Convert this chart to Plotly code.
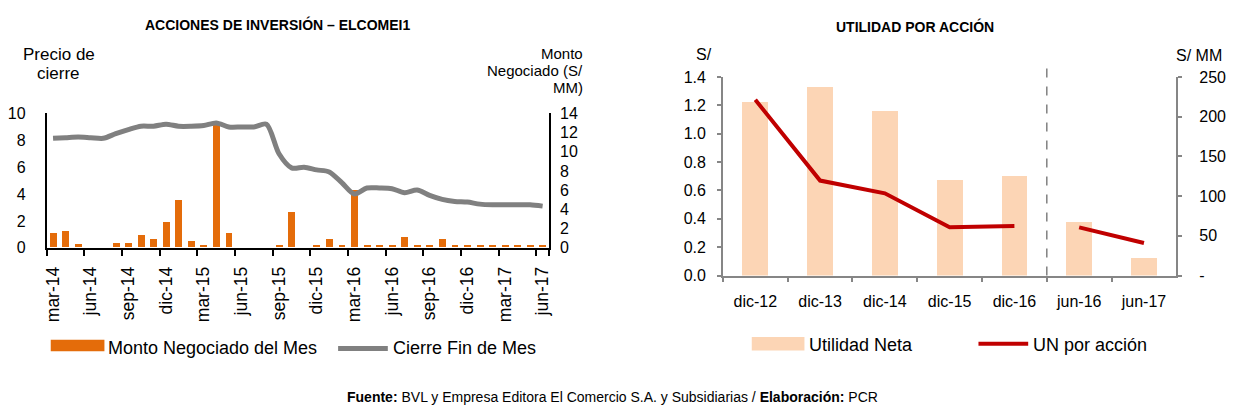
import plotly.graph_objects as go

W, H = 1241, 415

# Monthly trading data, ELCOMEI1 (mar-14 .. jun-17)
meses = [
    "mar-14", "abr-14", "may-14", "jun-14", "jul-14", "ago-14", "sep-14", "oct-14",
    "nov-14", "dic-14", "ene-15", "feb-15", "mar-15", "abr-15", "may-15", "jun-15",
    "jul-15", "ago-15", "sep-15", "oct-15", "nov-15", "dic-15", "ene-16", "feb-16",
    "mar-16", "abr-16", "may-16", "jun-16", "jul-16", "ago-16", "sep-16", "oct-16",
    "nov-16", "dic-16", "ene-17", "feb-17", "mar-17", "abr-17", "may-17", "jun-17",
]
# Monto negociado del mes (S/ MM)
monto_negociado = [
    1.5, 1.65, 0.3, 0, 0, 0.45, 0.45, 1.3,
    0.9, 2.65, 4.9, 0.65, 0.25, 12.7, 1.45, 0,
    0, 0, 0.25, 3.65, 0, 0.25, 0.85, 0.25,
    6.0, 0.25, 0.25, 0.25, 1.05, 0.25, 0.25, 0.85,
    0.25, 0.25, 0.25, 0.25, 0.25, 0.25, 0.25, 0.25,
]
# Precio de cierre fin de mes (S/)
cierre_mes = [
    8.15, 8.2, 8.25, 8.2, 8.15, 8.5, 8.8, 9.05,
    9.05, 9.2, 9.05, 9.05, 9.1, 9.3, 9.0, 9.0,
    9.0, 9.2, 7.0, 5.95, 6.0, 5.8, 5.65, 4.85,
    4.0, 4.45, 4.45, 4.4, 4.1, 4.3, 3.9, 3.6,
    3.45, 3.4, 3.25, 3.2, 3.2, 3.2, 3.2, 3.1,
]
etiquetas_meses = meses[::3]

# Utilidad por accion
periodos = ["dic-12", "dic-13", "dic-14", "dic-15", "dic-16", "jun-16", "jun-17"]
utilidad_neta = [219, 238, 207, 120, 125, 68, 22]          # S/ MM
un_por_accion = [1.24, 0.67, 0.58, 0.34, 0.35, 0.34, 0.23]  # S/
n_anuales = 5  # first five periods are annual, the rest semiannual

NARANJA = "#E46C0A"
GRIS = "#808080"
DURAZNO = "#FCD5B5"
ROJO = "#C00000"
EJE = "#868686"
FONT = "Arial, Liberation Sans, sans-serif"


def fx(p):
    return p / W


def fy(p):
    return 1 - p / H


fig = go.Figure()

fig.add_trace(go.Bar(
    x=meses, y=monto_negociado, name="Monto Negociado del Mes",
    marker=dict(color=NARANJA, line=dict(width=0)), width=0.55,
    xaxis="x", yaxis="y", showlegend=False,
))
fig.add_trace(go.Scatter(
    x=meses, y=cierre_mes, name="Cierre Fin de Mes", mode="lines",
    line=dict(color=GRIS, width=5, shape="spline", smoothing=0.8),
    xaxis="x", yaxis="y2", showlegend=False,
))
fig.add_trace(go.Bar(
    x=periodos, y=utilidad_neta, name="Utilidad Neta",
    marker=dict(color=DURAZNO, line=dict(width=0)), width=0.4,
    xaxis="x2", yaxis="y3", showlegend=False,
))
fig.add_trace(go.Scatter(
    x=periodos[:n_anuales], y=un_por_accion[:n_anuales], name="UN por acción",
    mode="lines", line=dict(color=ROJO, width=4),
    xaxis="x2", yaxis="y4", showlegend=False,
))
fig.add_trace(go.Scatter(
    x=periodos[n_anuales:], y=un_por_accion[n_anuales:], name="UN por acción",
    mode="lines", line=dict(color=ROJO, width=4),
    xaxis="x2", yaxis="y4", showlegend=False,
))

tick_font = dict(family=FONT, size=16, color="#000000")

fig.update_layout(
    width=W, height=H,
    margin=dict(l=0, r=0, t=0, b=0),
    paper_bgcolor="white", plot_bgcolor="rgba(0,0,0,0)",
    font=dict(family=FONT, color="#000000"),
    bargap=0,
    xaxis=dict(
        domain=[fx(43), fx(548)], anchor="y",
        type="category", categoryorder="array", categoryarray=meses,
        range=[-0.5, len(meses) - 0.5],
        tickmode="array", tickvals=etiquetas_meses, ticktext=etiquetas_meses,
        tickangle=-90, tickson="boundaries",
        ticks="outside", ticklen=6, tickwidth=1.5, tickcolor="#000000",
        showline=True, linecolor="#000000", linewidth=2,
        showgrid=False, zeroline=False,
        tickfont=dict(family=FONT, size=17.5, color="#000000"),
        ticklabelstandoff=10,
    ),
    yaxis=dict(
        domain=[fy(250), fy(110)], anchor="x", side="right",
        range=[0, 14], dtick=2, tick0=0,
        showline=True, linecolor="#000000", linewidth=2,
        ticks="", showgrid=False, zeroline=False, tickfont=tick_font,
        ticklabelstandoff=6,
    ),
    yaxis2=dict(
        overlaying="y", anchor="x", side="left",
        range=[0, 10], dtick=2, tick0=0,
        showline=True, linecolor="#000000", linewidth=2,
        ticks="", showgrid=False, zeroline=False, tickfont=tick_font,
        ticklabelstandoff=16,
    ),
    xaxis2=dict(
        domain=[fx(723), fx(1179)], anchor="y3",
        type="category", categoryorder="array", categoryarray=periodos,
        tickson="boundaries", ticks="outside", ticklen=5, tickwidth=1.5,
        tickcolor=EJE, showline=True, linecolor=EJE, linewidth=1.5,
        showgrid=False, zeroline=False, tickfont=tick_font,
        ticklabelstandoff=10,
    ),
    yaxis3=dict(
        domain=[fy(279), fy(72)], anchor="x2", side="right",
        range=[0, 250], tickmode="array",
        tickvals=[0, 50, 100, 150, 200, 250],
        ticktext=["-", "50", "100", "150", "200", "250"],
        ticks="outside", ticklen=4, tickwidth=1.5, tickcolor=EJE,
        showline=True, linecolor=EJE, linewidth=1.5,
        showgrid=False, zeroline=False, tickfont=tick_font,
        ticklabelstandoff=14,
    ),
    yaxis4=dict(
        overlaying="y3", anchor="x2", side="left",
        range=[0, 1.4], dtick=0.2, tick0=0, tickformat=".1f",
        ticks="outside", ticklen=4, tickwidth=1.5, tickcolor=EJE,
        showline=True, linecolor=EJE, linewidth=1.5,
        showgrid=False, zeroline=False, tickfont=tick_font,
        ticklabelstandoff=8,
    ),
)

# Separator between annual and semiannual periods
fig.add_shape(
    type="line", xref="x2", yref="paper",
    x0=n_anuales - 0.5, x1=n_anuales - 0.5, y0=fy(279), y1=fy(58),
    line=dict(color=GRIS, width=1.5, dash="dash"),
)


def texto(s, x, y, size, xanchor="center", bold=False):
    fig.add_annotation(
        text=f"<b>{s}</b>" if bold else s,
        x=fx(x), y=fy(y), xref="paper", yref="paper",
        xanchor=xanchor, yanchor="middle", showarrow=False,
        font=dict(family=FONT, size=size, color="#000000"),
    )


# Titles
texto("ACCIONES DE INVERSIÓN – ELCOMEI1", 275, 17, 14, bold=True)
texto("UTILIDAD POR ACCIÓN", 916, 19, 14, bold=True)

# Axis captions
texto("Precio de", 55, 49, 17)
texto("cierre", 55, 68, 17)
texto("Monto", 584, 47, 15, xanchor="right")
texto("Negociado (S/", 584, 65, 15, xanchor="right")
texto("MM)", 584, 83, 15, xanchor="right")
texto("S/", 704, 49, 16)
texto("S/ MM", 1202, 50, 16)

# Legend, left chart
fig.add_shape(type="rect", xref="paper", yref="paper",
              x0=fx(47), x1=fx(101), y0=fy(358), y1=fy(346),
              fillcolor=NARANJA, line=dict(width=0))
texto("Monto Negociado del Mes", 103, 355, 18, xanchor="left")
fig.add_shape(type="line", xref="paper", yref="paper",
              x0=fx(336), x1=fx(386), y0=fy(355), y1=fy(355),
              line=dict(color=GRIS, width=5))
texto("Cierre Fin de Mes", 389, 355, 18, xanchor="left")

# Legend, right chart
fig.add_shape(type="rect", xref="paper", yref="paper",
              x0=fx(752), x1=fx(805), y0=fy(357), y1=fy(343),
              fillcolor=DURAZNO, line=dict(width=0))
texto("Utilidad Neta", 808, 351, 18, xanchor="left")
fig.add_shape(type="line", xref="paper", yref="paper",
              x0=fx(980), x1=fx(1030), y0=fy(350), y1=fy(350),
              line=dict(color=ROJO, width=4))
texto("UN por acción", 1033, 351, 18, xanchor="left")

# Source note
texto("<b>Fuente:</b> BVL y Empresa Editora El Comercio S.A. y Subsidiarias / <b>Elaboración:</b> PCR",
      612, 406, 14)

fig.write_html("out.html")
